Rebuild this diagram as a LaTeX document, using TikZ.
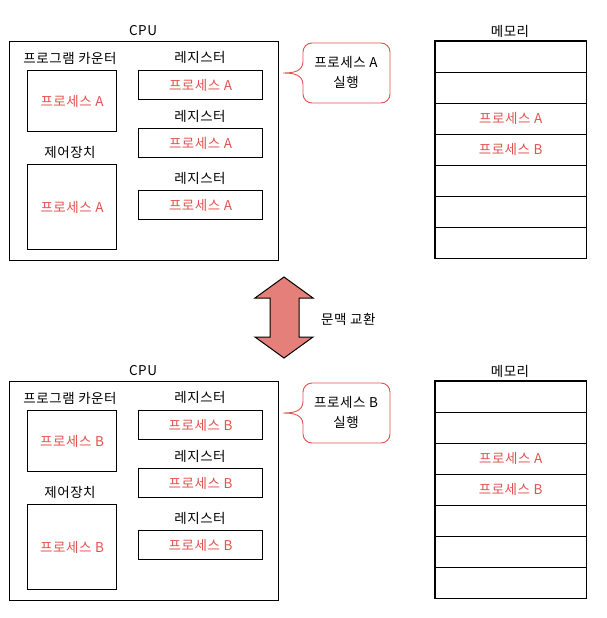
\documentclass[tikz,border=0pt]{standalone}
\usepackage{fontspec}
\setmainfont{Noto Sans CJK KR}[LetterSpace=4]
\definecolor{procred}{HTML}{E0524F}
\definecolor{arrowfill}{HTML}{E57F7A}
\tikzset{
  blk/.style={draw=black, line width=1.1pt, inner sep=0pt},
  ttl/.style={font=\fontsize{13.5}{16}\selectfont, text=black, inner sep=1pt},
  proc/.style={font=\fontsize{13.5}{16}\selectfont, text=procred, inner sep=1pt},
  callout/.style={draw=procred, line width=0.9pt},
  memrow/.style={minimum width=151pt, minimum height=31pt, inner sep=0pt, anchor=north west},
  memline/.style={draw=black, line width=1.1pt},
}
\newcommand\halfdiagram[3]{%
  % CPU
  \node[ttl] (#3cpulbl) at (143,31+#1) {CPU};
  \node[blk, anchor=north west, minimum width=269pt, minimum height=219pt] (#3cpu) at (9,41+#1) {};
  % program counter
  \node[ttl] (#3pclbl) at (70,58+#1) {프로그램 카운터};
  \node[blk, anchor=north west, minimum width=89pt, minimum height=61pt] (#3pc) at (27,70+#1) {};
  \node[proc] (#3pctxt) at (#3pc.center) {프로세스 #2};
  % control unit
  \node[ttl] (#3culbl) at (70,152+#1) {제어장치};
  \node[blk, anchor=north west, minimum width=89pt, minimum height=85pt] (#3cu) at (27,164+#1) {};
  \node[proc] (#3cutxt) at (#3cu.center) {프로세스 #2};
  % registers
  \node[ttl] (#3r1lbl) at (200,57+#1) {레지스터};
  \node[blk, anchor=north west, minimum width=124pt, minimum height=29pt] (#3r1) at (138,70+#1) {};
  \node[proc] (#3r1txt) at (#3r1.center) {프로세스 #2};
  \node[ttl] (#3r2lbl) at (200,116+#1) {레지스터};
  \node[blk, anchor=north west, minimum width=124pt, minimum height=29pt] (#3r2) at (138,128+#1) {};
  \node[proc] (#3r2txt) at (#3r2.center) {프로세스 #2};
  \node[ttl] (#3r3lbl) at (200,178+#1) {레지스터};
  \node[blk, anchor=north west, minimum width=124pt, minimum height=29pt] (#3r3) at (138,190+#1) {};
  \node[proc] (#3r3txt) at (#3r3.center) {프로세스 #2};
  % callout
  \draw[callout, rounded corners=9pt] (303,62+#1) -- (303,43+#1) -- (390,43+#1) -- (390,103+#1) -- (303,103+#1) -- (303,84+#1);
  \draw[callout] (303,84+#1) .. controls (302,75+#1) and (295,73+#1) .. (283,73+#1)
                 .. controls (295,73+#1) and (302,71+#1) .. (303,62+#1);
  \node[ttl, align=center, font=\fontsize{13.5}{20}\selectfont] (#3call) at (346,72+#1) {프로세스 #2\\실행};
  % memory
  \node[ttl] (#3memlbl) at (510,31+#1) {메모리};
  \foreach \i in {1,...,7} {
    \node[memrow] (#3m\i) at (435,{41+#1+(\i-1)*31}) {};
  }
  \draw[memline] (#3m1.north west) rectangle (#3m7.south east);
  \foreach \i in {1,...,6} {
    \draw[memline] (#3m\i.south west) -- (#3m\i.south east);
  }
  \node[proc] (#3ma) at (#3m3.center) {프로세스 A};
  \node[proc] (#3mb) at (#3m4.center) {프로세스 B};
}
\begin{document}
\begin{tikzpicture}[x=1pt,y=-1pt]
  \useasboundingbox (0,0) rectangle (606,618);
  \halfdiagram{0}{A}{t}
  \halfdiagram{340}{B}{b}
  % context switch arrow
  \coordinate (arrtop) at (284,277);
  \coordinate (arrbot) at (284,358);
  \draw[black, line width=1pt, fill=arrowfill, line join=miter]
    (arrtop) -- (313,298) -- (299,298) -- (299,337) -- (313,337) -- (arrbot)
    -- (255,337) -- (270,337) -- (270,298) -- (255,298) -- cycle;
  \node[ttl, anchor=west] (switch) at (320,319) {문맥 교환};
\end{tikzpicture}
\end{document}
